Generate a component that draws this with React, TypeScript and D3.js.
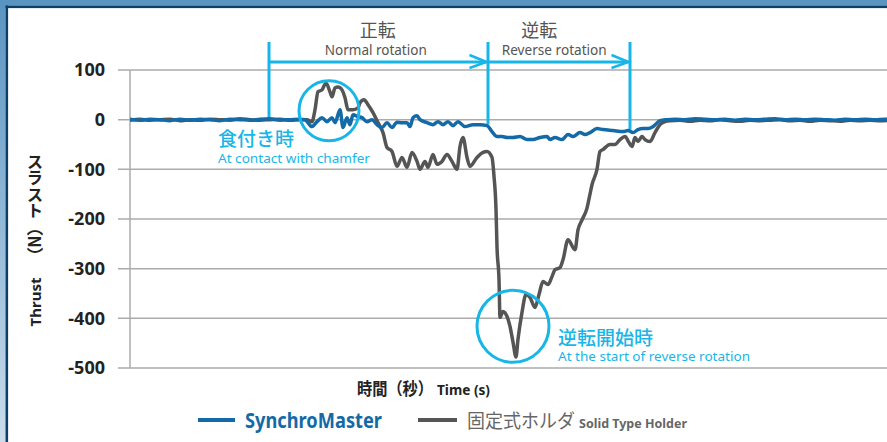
import React from "react";
import * as d3 from "d3";

const W = 887;
const H = 442;

const yTicks = [100, 0, -100, -200, -300, -400, -500];

// [time (s), thrust (N)]
const synchroMaster: [number, number][] = [
  [0, 1], [0.1, -1], [0.2, 1], [0.3, 0], [0.4, -2], [0.5, 1], [0.6, -1], [0.7, 1], [0.8, 0],
  [0.9, -2], [1.0, 1], [1.1, 0], [1.2, -1], [1.3, 1], [1.4, 2], [1.5, -1], [1.6, 0], [1.7, 1],
  [1.75, 0], [1.82, -14], [1.87, -4], [1.92, 4], [1.97, -4], [2.02, 4], [2.05, -6], [2.1, 20],
  [2.13, -16], [2.17, 4], [2.2, -10], [2.23, 10], [2.28, 6], [2.32, 4], [2.37, -4], [2.42, 0],
  [2.47, -10], [2.52, -16], [2.57, -6], [2.62, -16], [2.67, -5], [2.72, -6], [2.77, -6],
  [2.8, -14], [2.83, 4], [2.87, 8], [2.9, 0], [2.97, -6], [3.03, -10], [3.08, -4], [3.13, -10],
  [3.18, -4], [3.23, -12], [3.28, -4], [3.35, -14], [3.43, -10], [3.5, -10], [3.57, -12],
  [3.62, -24], [3.67, -34], [3.72, -34], [3.77, -36], [3.83, -36], [3.9, -34], [3.97, -40],
  [4.03, -40], [4.1, -36], [4.17, -34], [4.2, -40], [4.25, -36], [4.32, -40], [4.38, -30],
  [4.43, -34], [4.5, -26], [4.55, -30], [4.6, -26], [4.67, -18], [4.73, -20], [4.83, -22],
  [4.93, -24], [4.98, -22], [5.03, -26], [5.08, -20], [5.13, -18], [5.18, -18], [5.23, -14],
  [5.3, -2], [5.37, 0], [5.45, 1], [5.55, 0], [5.65, 2], [5.75, 1], [5.85, 0], [5.95, 1],
  [6.05, -1], [6.15, 1], [6.25, 0], [6.35, 1], [6.45, 2], [6.55, 0], [6.65, 1], [6.75, 0],
  [6.85, 1], [6.95, 0], [7.05, -1], [7.15, 1], [7.25, 0], [7.35, 1], [7.45, 0], [7.55, 1], [7.6, 0],
];

const solidHolder: [number, number][] = [
  [0, -1], [0.1, 1], [0.2, -1], [0.3, 0], [0.4, 1], [0.5, -2], [0.6, 0], [0.7, -1], [0.8, 1],
  [0.9, 0], [1.0, -1], [1.1, 2], [1.2, 0], [1.3, -1], [1.4, 0], [1.5, 1], [1.6, -1], [1.7, 0],
  [1.77, 0], [1.82, -4], [1.85, 20], [1.88, 56], [1.92, 60], [1.96, 74], [2.0, 56], [2.02, 46],
  [2.05, 64], [2.08, 66], [2.12, 60], [2.15, 44], [2.18, 20], [2.23, 20], [2.28, 24], [2.3, 34],
  [2.34, 40], [2.38, 30], [2.43, 14], [2.48, -6], [2.53, -26], [2.57, -56], [2.62, -64],
  [2.67, -94], [2.72, -76], [2.77, -96], [2.82, -66], [2.87, -84], [2.9, -100], [2.95, -84],
  [2.98, -96], [3.03, -70], [3.07, -90], [3.12, -84], [3.17, -70], [3.22, -84], [3.27, -100],
  [3.3, -54], [3.33, -36], [3.37, -76], [3.4, -94], [3.47, -76], [3.53, -66], [3.57, -64],
  [3.62, -76], [3.64, -114], [3.66, -180], [3.67, -256], [3.69, -322], [3.7, -398], [3.73, -386],
  [3.77, -396], [3.8, -416], [3.83, -448], [3.86, -478], [3.88, -442], [3.92, -388], [3.96, -352],
  [4.0, -358], [4.05, -378], [4.09, -352], [4.13, -326], [4.18, -332], [4.22, -316], [4.25, -302],
  [4.3, -298], [4.33, -282], [4.38, -242], [4.45, -262], [4.48, -222], [4.52, -202], [4.57, -178],
  [4.6, -150], [4.62, -131], [4.67, -100], [4.7, -64], [4.73, -60], [4.8, -50], [4.85, -50],
  [4.9, -40], [4.95, -34], [4.99, -46], [5.02, -54], [5.05, -36], [5.08, -44], [5.12, -34],
  [5.15, -40], [5.2, -44], [5.25, -26], [5.3, -10], [5.35, -4], [5.4, -2], [5.5, -1], [5.6, -3],
  [5.7, -1], [5.8, -2], [5.9, 0], [6.0, -2], [6.1, -3], [6.2, -1], [6.3, -2], [6.4, -1], [6.5, 0],
  [6.6, -2], [6.7, -1], [6.8, -3], [6.9, -1], [7.0, -2], [7.1, -3], [7.2, -1], [7.3, -2], [7.4, -1],
  [7.5, -2], [7.6, -1],
];

// phase boundaries [time, thrust where the marker line ends]
const phaseMarks: [number, number][] = [
  [1.39, 0],
  [3.58, -10],
  [5.0, -20],
];

const phaseLabels = [
  { ja: "正転", en: "Normal rotation", from: 0, to: 1 },
  { ja: "逆転", en: "Reverse rotation", from: 1, to: 2 },
];

// highlight circles
const highlights = [
  { t: 1.99, v: 18, r: 30, ja: "食付き時", en: "At contact with chamfer", lx: 218 },
  { t: 3.83, v: -416, r: 36, ja: "逆転開始時", en: "At the start of reverse rotation", lx: 558 },
];

const BLUE = "#136aa6";
const GRAY = "#555555";
const CYAN = "#18b6e8";
const FONT = "'Noto Sans', 'Noto Sans CJK JP', sans-serif";
const JFONT = "'Noto Sans CJK JP', 'Noto Sans', sans-serif";

export default function App() {
  const x = d3.scaleLinear().domain([0, 7.57]).range([130, 887]);
  const y = d3.scaleLinear().domain([-500, 100]).range([368, 70]);
  const line = d3
    .line<[number, number]>()
    .x((d) => x(d[0]))
    .y((d) => y(d[1]))
    .curve(d3.curveMonotoneX);

  const arrowY = 62;
  const markTop = 42;

  return (
    <div style={{ width: W, height: H }}>
      <style>{`body{margin:0}`}</style>
      <svg width={W} height={H} style={{ display: "block" }} fontFamily={FONT}>
        <defs>
          <linearGradient id="leftband" x1="0" y1="0" x2="0" y2="1">
            <stop offset="0" stopColor="#5a94c1" />
            <stop offset="1" stopColor="#cadded" />
          </linearGradient>
          <clipPath id="plotclip">
            <rect x={130} y={0} width={W - 130} height={H} />
          </clipPath>
        </defs>
        <rect x={0} y={0} width={W} height={H} fill="#ffffff" />
        <rect x={0} y={0} width={5.5} height={H} fill="url(#leftband)" />
        <rect x={0} y={0} width={W} height={5.5} fill="#5a94c1" />
        <rect x={5.5} y={5.5} width={2.6} height={H - 5.5} fill="#0d3e66" />
        <rect x={5.5} y={5.5} width={W - 5.5} height={2.6} fill="#0d3e66" />

        {/* grid + ticks */}
        {yTicks.map((t) => (
          <g key={t}>
            <line x1={118} x2={W} y1={y(t)} y2={y(t)} stroke="#ababab" strokeWidth={1.5} />
            <text
              x={105}
              y={y(t)}
              dy="0.35em"
              textAnchor="end"
              fontSize={18}
              fontWeight="bold"
              fill="#222"
            >
              {t}
            </text>
          </g>
        ))}
        <line x1={130} x2={130} y1={y(100)} y2={y(-500)} stroke="#ababab" strokeWidth={1.5} />

        {/* y title */}
        <text
          x={35}
          y={153}
          fontFamily={JFONT}
          fontSize={16.5}
          fontWeight="bold"
          fill="#222"
          style={{ writingMode: "vertical-rl" as any }}
        >
          スラスト（N）
        </text>
        <text
          transform="translate(41,302) rotate(-90)"
          textAnchor="middle"
          fontSize={15}
          fontWeight="bold"
          fill="#222"
        >
          Thrust
        </text>

        {/* phase markers */}
        {phaseMarks.map(([t, v], i) => (
          <line
            key={i}
            x1={x(t)}
            x2={x(t)}
            y1={markTop}
            y2={y(v)}
            stroke={CYAN}
            strokeWidth={3}
          />
        ))}
        {phaseLabels.map((p, i) => {
          const x0 = x(phaseMarks[p.from][0]);
          const x1 = x(phaseMarks[p.to][0]) - 1.5;
          const cx = (x0 + x1) / 2;
          return (
            <g key={i}>
              <line x1={x0} x2={x1} y1={arrowY} y2={arrowY} stroke={CYAN} strokeWidth={3} />
              <polyline
                points={`${x1 - 17},${arrowY - 7} ${x1},${arrowY} ${x1 - 17},${arrowY + 6}`}
                fill="none"
                stroke={CYAN}
                strokeWidth={2.5}
              />
              <text
                x={i === 0 ? cx : cx - 19}
                y={37}
                textAnchor="middle"
                fontFamily={JFONT}
                fontSize={18}
                fill="#555"
              >
                {p.ja}
              </text>
              <text
                x={i === 0 ? cx - 2 : cx - 4}
                y={55}
                textAnchor="middle"
                fontSize={13.5}
                fill="#555"
                textLength={i === 0 ? 102 : 105}
                lengthAdjust="spacingAndGlyphs"
              >
                {p.en}
              </text>
            </g>
          );
        })}

        {/* data lines */}
        <g clipPath="url(#plotclip)">
          <path d={line(solidHolder) || ""} fill="none" stroke={GRAY} strokeWidth={3.5} strokeLinejoin="round" />
          <path d={line(synchroMaster) || ""} fill="none" stroke={BLUE} strokeWidth={3.5} strokeLinejoin="round" />
        </g>

        {/* highlight circles */}
        {highlights.map((h, i) => {
          const cx = x(h.t);
          const cy = y(h.v);
          return (
            <g key={i}>
              <circle cx={cx} cy={cy} r={h.r} fill="none" stroke={CYAN} strokeWidth={3} />
              <text
                x={h.lx}
                y={i === 0 ? 146 : 345}
                fontFamily={JFONT}
                fontSize={19}
                fontWeight={500}
                fill={CYAN}
              >
                {h.ja}
              </text>
              <text
                x={h.lx}
                y={i === 0 ? 163 : 361}
                fontSize={12.5}
                fill={CYAN}
                textLength={i === 0 ? 152 : 192}
                lengthAdjust="spacingAndGlyphs"
              >
                {h.en}
              </text>
            </g>
          );
        })}

        {/* x title */}
        <text
          x={357}
          y={395}
          fontFamily={JFONT}
          fontSize={17}
          fontWeight="bold"
          fill="#222"
          textLength={76}
          lengthAdjust="spacingAndGlyphs"
        >
          時間（秒）
        </text>
        <text
          x={437}
          y={395}
          fontSize={14}
          fontWeight="bold"
          fill="#222"
          textLength={53}
          lengthAdjust="spacingAndGlyphs"
        >
          Time (s)
        </text>

        {/* legend */}
        <line x1={198} x2={235} y1={420} y2={420} stroke={BLUE} strokeWidth={4} />
        <text
          x={245}
          y={428}
          fontSize={21}
          fontWeight="bold"
          fill={BLUE}
          textLength={137}
          lengthAdjust="spacingAndGlyphs"
        >
          SynchroMaster
        </text>
        <line x1={418} x2={457} y1={420} y2={420} stroke={GRAY} strokeWidth={4} />
        <text
          x={467}
          y={428}
          fontFamily={JFONT}
          fontSize={19}
          fill="#666"
          textLength={108}
          lengthAdjust="spacingAndGlyphs"
        >
          固定式ホルダ
        </text>
        <text
          x={579}
          y={428}
          fontSize={12}
          fontWeight="bold"
          fill="#666"
          textLength={108}
          lengthAdjust="spacingAndGlyphs"
        >
          Solid Type Holder
        </text>
      </svg>
    </div>
  );
}
